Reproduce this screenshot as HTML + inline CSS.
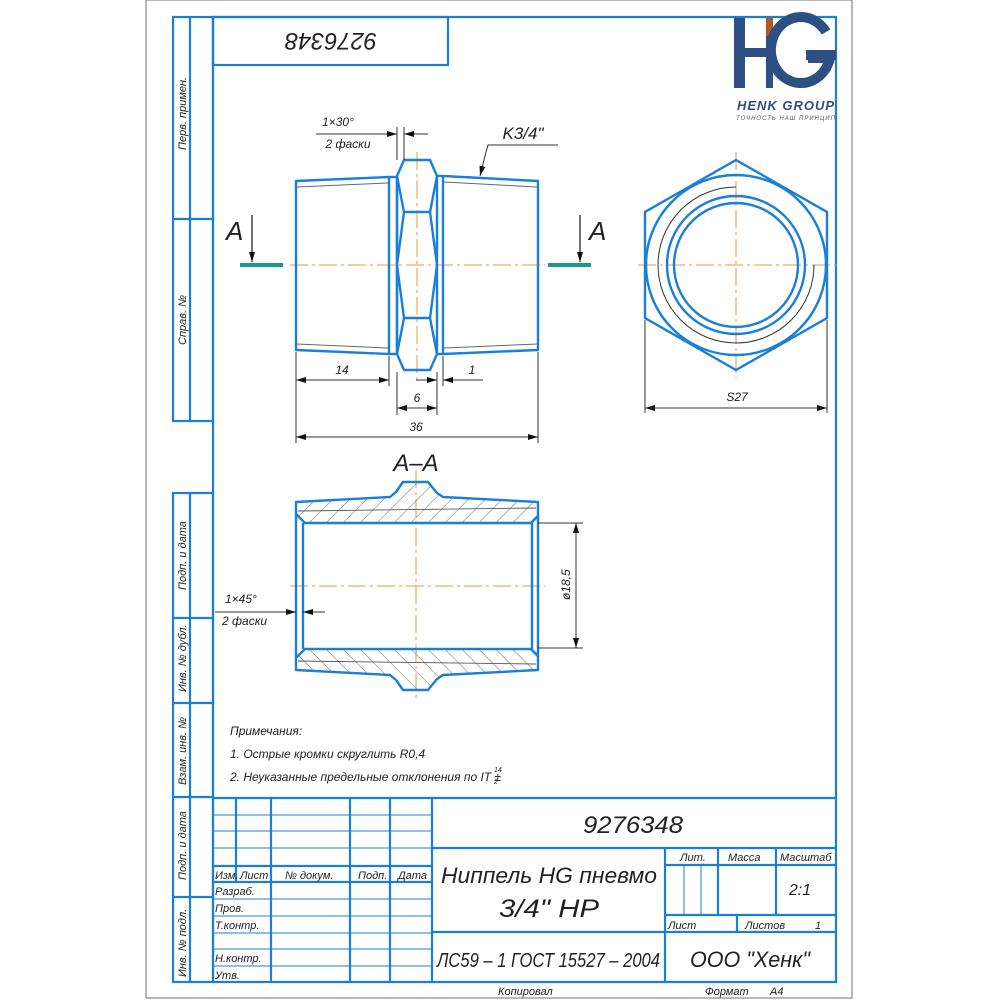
<!DOCTYPE html>
<html><head><meta charset="utf-8"><style>
html,body{margin:0;padding:0;background:#fff;width:1000px;height:1000px;overflow:hidden}
svg{display:block}
text{font-family:"Liberation Sans",sans-serif;font-style:italic;fill:#222}
</style></head><body>
<svg width="1000" height="1000" viewBox="0 0 1000 1000" xmlns="http://www.w3.org/2000/svg">
<defs>
<pattern id="h" patternUnits="userSpaceOnUse" width="12" height="12" patternTransform="rotate(45)">
<line x1="0" y1="0" x2="0" y2="12" stroke="#555" stroke-width="0.9"/>
</pattern>
<marker id="a" viewBox="0 0 10 6" refX="10" refY="3" markerWidth="10" markerHeight="6" orient="auto-start-reverse" markerUnits="userSpaceOnUse"><path d="M0,0L10,3L0,6z" fill="#111"/></marker>
</defs>
<rect x="146" y="0" width="706" height="998" fill="none" stroke="#888" stroke-width="1.2"/>
<g fill="none" stroke="#1a7fd8" stroke-width="2.2">
<path d="M213,17H836V982H213Z"/>
<rect x="173" y="17" width="40" height="404"/>
<line x1="190" y1="17" x2="190" y2="421"/><line x1="173" y1="219" x2="213" y2="219"/>
<rect x="173" y="493" width="40" height="489"/>
<line x1="190" y1="493" x2="190" y2="982"/>
<line x1="173" y1="618" x2="213" y2="618"/><line x1="173" y1="703" x2="213" y2="703"/><line x1="173" y1="797" x2="213" y2="797"/><line x1="173" y1="897" x2="213" y2="897"/>
<rect x="213" y="17" width="235" height="48"/>
<line x1="213" y1="798" x2="836" y2="798"/>
<line x1="432" y1="798" x2="432" y2="982"/>
<line x1="432" y1="848" x2="836" y2="848"/>
<line x1="432" y1="932" x2="836" y2="932"/>
<line x1="665" y1="848" x2="665" y2="982"/>
<line x1="665" y1="865" x2="836" y2="865"/>
<line x1="665" y1="915" x2="836" y2="915"/>
<line x1="718" y1="848" x2="718" y2="915"/><line x1="776" y1="848" x2="776" y2="915"/>
<line x1="737" y1="915" x2="737" y2="932"/>
<line x1="213" y1="866" x2="432" y2="866"/><line x1="213" y1="882" x2="432" y2="882"/>
<line x1="236" y1="798" x2="236" y2="882"/>
<line x1="271" y1="798" x2="271" y2="982"/><line x1="350" y1="798" x2="350" y2="982"/><line x1="390" y1="798" x2="390" y2="982"/>
</g>
<g stroke="#1a7fd8" stroke-width="1">
<line x1="213" y1="815" x2="432" y2="815"/><line x1="213" y1="831" x2="432" y2="831"/><line x1="213" y1="848" x2="432" y2="848"/>
<line x1="213" y1="899" x2="432" y2="899"/><line x1="213" y1="916" x2="432" y2="916"/><line x1="213" y1="933" x2="432" y2="933"/><line x1="213" y1="949" x2="432" y2="949"/><line x1="213" y1="966" x2="432" y2="966"/>
<line x1="684" y1="865" x2="684" y2="915"/><line x1="701" y1="865" x2="701" y2="915"/>
</g>
<g font-size="11">
<text transform="translate(186,150) rotate(-90)">Перв. примен.</text>
<text transform="translate(186,345) rotate(-90)">Справ. №</text>
<text transform="translate(186,590) rotate(-90)">Подп. и дата</text>
<text transform="translate(186,692) rotate(-90)">Инв. № дубл.</text>
<text transform="translate(186,785) rotate(-90)">Взам. инв. №</text>
<text transform="translate(186,880) rotate(-90)">Подп. и дата</text>
<text transform="translate(186,977) rotate(-90)">Инв. № подл.</text>
</g>
<text transform="translate(331,33) rotate(180)" font-size="24" text-anchor="middle" textLength="92" lengthAdjust="spacingAndGlyphs">9276348</text>
<g>
<rect x="734" y="18" width="11" height="70" fill="#2d4f82"/>
<rect x="745" y="48" width="22" height="9" fill="#2d4f82"/>
<rect x="766" y="18" width="7" height="18" fill="#b4542a"/>
<rect x="766" y="36" width="7" height="52" fill="#2d4f82"/>
<path d="M826,32 A30,33 0 1 0 830,58 L808,58" fill="none" stroke="#2d4f82" stroke-width="10"/>
<rect x="806" y="50" width="30" height="10" fill="#2d4f82"/>
<text x="786" y="110" font-size="13" font-weight="bold" font-style="normal" text-anchor="middle" style="letter-spacing:1px;fill:#2d4f82">HENK GROUP</text>
<text x="786" y="120" font-size="6" font-style="normal" text-anchor="middle" style="letter-spacing:1px;fill:#555">ТОЧНОСТЬ НАШ ПРИНЦИП</text>
</g>
<g stroke="#e69a3a" stroke-width="1" stroke-dasharray="18,4,3,4" fill="none">
<line x1="290" y1="265" x2="545" y2="265"/>
<line x1="417" y1="152" x2="417" y2="380"/>
<line x1="638" y1="265" x2="840" y2="265"/>
<line x1="736" y1="152" x2="736" y2="378"/>
<line x1="290" y1="586" x2="545" y2="586"/>
<line x1="416" y1="470" x2="416" y2="700"/>
</g>
<g fill="none" stroke="#1a7fd8" stroke-width="2.4" stroke-linejoin="round">
<path d="M296,181L389,177L389,354L296,350Z"/>
<line x1="397" y1="176" x2="397" y2="354"/>
<path d="M404,160H430L437,176V354L430,370H404L397,354V176Z"/>
<path d="M397,176L404,212H430L437,176M404,212L397,265L404,318H430L437,265L430,212M397,354L404,318M437,354L430,318"/>
<line x1="443" y1="176" x2="443" y2="354"/>
<path d="M443,176L538,181L538,350L443,354"/>
<line x1="389" y1="177" x2="397" y2="177"/><line x1="389" y1="354" x2="397" y2="354"/>
<line x1="437" y1="176" x2="443" y2="176"/><line x1="437" y1="354" x2="443" y2="354"/>
</g>
<g stroke="#666" stroke-width="1" fill="none">
<line x1="297" y1="187" x2="388" y2="183"/><line x1="297" y1="344" x2="388" y2="348"/>
<line x1="444" y1="182" x2="537" y2="187"/><line x1="444" y1="348" x2="537" y2="344"/>
</g>
<g>
<line x1="240" y1="265" x2="283" y2="265" stroke="#169a8a" stroke-width="4"/>
<line x1="548" y1="265" x2="591" y2="265" stroke="#169a8a" stroke-width="4"/>
<line x1="252" y1="215" x2="252" y2="262" stroke="#111" stroke-width="1.2" marker-end="url(#a)"/>
<line x1="580" y1="215" x2="580" y2="262" stroke="#111" stroke-width="1.2" marker-end="url(#a)"/>
<text x="226" y="240" font-size="26" font-style="normal">A</text>
<text x="589" y="240" font-size="26" font-style="normal">A</text>
</g>
<g stroke="#333" stroke-width="1" fill="none">
<line x1="397" y1="127" x2="397" y2="160"/><line x1="404" y1="127" x2="404" y2="160"/>
<line x1="316" y1="134" x2="397" y2="134" marker-end="url(#a)"/>
<line x1="428" y1="134" x2="404" y2="134" marker-end="url(#a)"/>
<path d="M558,145H488L486,152" /><line x1="486" y1="152" x2="480" y2="176" marker-end="url(#a)"/>
<line x1="296" y1="352" x2="296" y2="443"/><line x1="389" y1="356" x2="389" y2="386"/>
<line x1="296" y1="380" x2="389" y2="380" marker-start="url(#a)" marker-end="url(#a)"/>
<line x1="416" y1="380" x2="437" y2="380" marker-end="url(#a)"/>
<line x1="483" y1="380" x2="443" y2="380" marker-end="url(#a)"/>
<line x1="443" y1="356" x2="443" y2="386"/>
<line x1="397" y1="372" x2="397" y2="415"/><line x1="437" y1="372" x2="437" y2="415"/>
<line x1="397" y1="408" x2="437" y2="408" marker-start="url(#a)" marker-end="url(#a)"/>
<line x1="538" y1="352" x2="538" y2="443"/>
<line x1="296" y1="437" x2="538" y2="437" marker-start="url(#a)" marker-end="url(#a)"/>
<line x1="645" y1="320" x2="645" y2="413"/><line x1="827" y1="320" x2="827" y2="413"/>
<line x1="645" y1="408" x2="827" y2="408" marker-start="url(#a)" marker-end="url(#a)"/>
</g>
<g font-size="12">
<text x="338" y="126" text-anchor="middle">1×30°</text>
<text x="348" y="148" text-anchor="middle">2 фаски</text>
<text x="523" y="139" text-anchor="middle" font-size="17">K3/4"</text>
<text x="342" y="374" text-anchor="middle">14</text>
<text x="472" y="374" text-anchor="middle">1</text>
<text x="417" y="402" text-anchor="middle">6</text>
<text x="416" y="431" text-anchor="middle">36</text>
<text x="737" y="401" text-anchor="middle">S27</text>
</g>
<g fill="none" stroke="#1a7fd8" stroke-width="2.4">
<path d="M736,160L827,212L827,318L736,370L645,318L645,212Z"/>
<circle cx="736" cy="265" r="90"/>
<circle cx="736" cy="265" r="69"/>
<circle cx="736" cy="265" r="62"/>
</g>
<path d="M736,187 A78,78 0 1 0 814,265" fill="none" stroke="#333" stroke-width="1"/>
<text x="416" y="471" font-size="24" text-anchor="middle">A–A</text>
<path d="M296,502L390,497L396,492L403,482L428,482L437,493L443,497L538,502L538,516L531,523L305,523L296,514Z" fill="url(#h)" stroke="#1a7fd8" stroke-width="2.4" stroke-linejoin="round"/>
<path d="M296,502L390,497L396,492L403,482L428,482L437,493L443,497L538,502L538,516L531,523L305,523L296,514Z" transform="translate(0,1172) scale(1,-1)" fill="url(#h)" stroke="#1a7fd8" stroke-width="2.4" stroke-linejoin="round"/>
<g stroke="#555" stroke-width="0.9">
<line x1="298" y1="511" x2="536" y2="508"/><line x1="298" y1="661" x2="536" y2="664"/>
</g>
<g fill="none" stroke="#1a7fd8" stroke-width="2.4">
<line x1="296" y1="514" x2="296" y2="658"/><line x1="303" y1="523" x2="303" y2="649"/>
<line x1="538" y1="516" x2="538" y2="656"/><line x1="532" y1="523" x2="532" y2="649"/>
</g>
<g stroke="#333" stroke-width="1" fill="none">
<line x1="538" y1="523" x2="583" y2="523"/><line x1="538" y1="648" x2="583" y2="648"/>
<line x1="576" y1="523" x2="576" y2="648" marker-start="url(#a)" marker-end="url(#a)"/>
<line x1="215" y1="612" x2="296" y2="612" marker-end="url(#a)"/>
<line x1="325" y1="612" x2="303" y2="612" marker-end="url(#a)"/>
</g>
<text transform="translate(570,600) rotate(-90)" font-size="12">ø18,5</text>
<g font-size="12">
<text x="225" y="603">1×45°</text>
<text x="222" y="625">2 фаски</text>
<text x="230" y="735">Примечания:</text>
<text x="230" y="758">1. Острые кромки скруглить R0,4</text>
<text x="230" y="781">2. Неуказанные предельные отклонения по IT ±</text>
<text x="494" y="772" font-size="7">14</text><text x="494" y="784" font-size="7">2</text>
</g>
<g font-size="11">
<text x="215" y="879">Изм.</text><text x="240" y="879">Лист</text><text x="285" y="879">№ докум.</text><text x="358" y="879">Подп.</text><text x="398" y="879">Дата</text>
<text x="215" y="895">Разраб.</text><text x="215" y="912">Пров.</text><text x="215" y="929">Т.контр.</text>
<text x="215" y="962">Н.контр.</text><text x="215" y="979">Утв.</text>
<text x="680" y="861">Лит.</text><text x="728" y="861">Масса</text><text x="780" y="861">Масштаб</text>
<text x="668" y="929">Лист</text><text x="745" y="929">Листов</text><text x="815" y="929">1</text>
<text x="498" y="995">Копировал</text><text x="705" y="995">Формат</text><text x="770" y="995">А4</text>
</g>
<text x="583" y="833" font-size="24" textLength="100" lengthAdjust="spacingAndGlyphs">9276348</text>
<text x="441" y="883" font-size="22" textLength="216" lengthAdjust="spacingAndGlyphs">Ниппель HG пневмо</text>
<text x="499" y="917" font-size="25" textLength="100" lengthAdjust="spacingAndGlyphs">3/4" НР</text>
<text x="437" y="967" font-size="20" textLength="223" lengthAdjust="spacingAndGlyphs">ЛС59 – 1 ГОСТ 15527 – 2004</text>
<text x="690" y="967" font-size="22" textLength="120" lengthAdjust="spacingAndGlyphs">ООО "Хенк"</text>
<text x="800" y="895" font-size="16" text-anchor="middle">2:1</text>
</svg>
</body></html>
